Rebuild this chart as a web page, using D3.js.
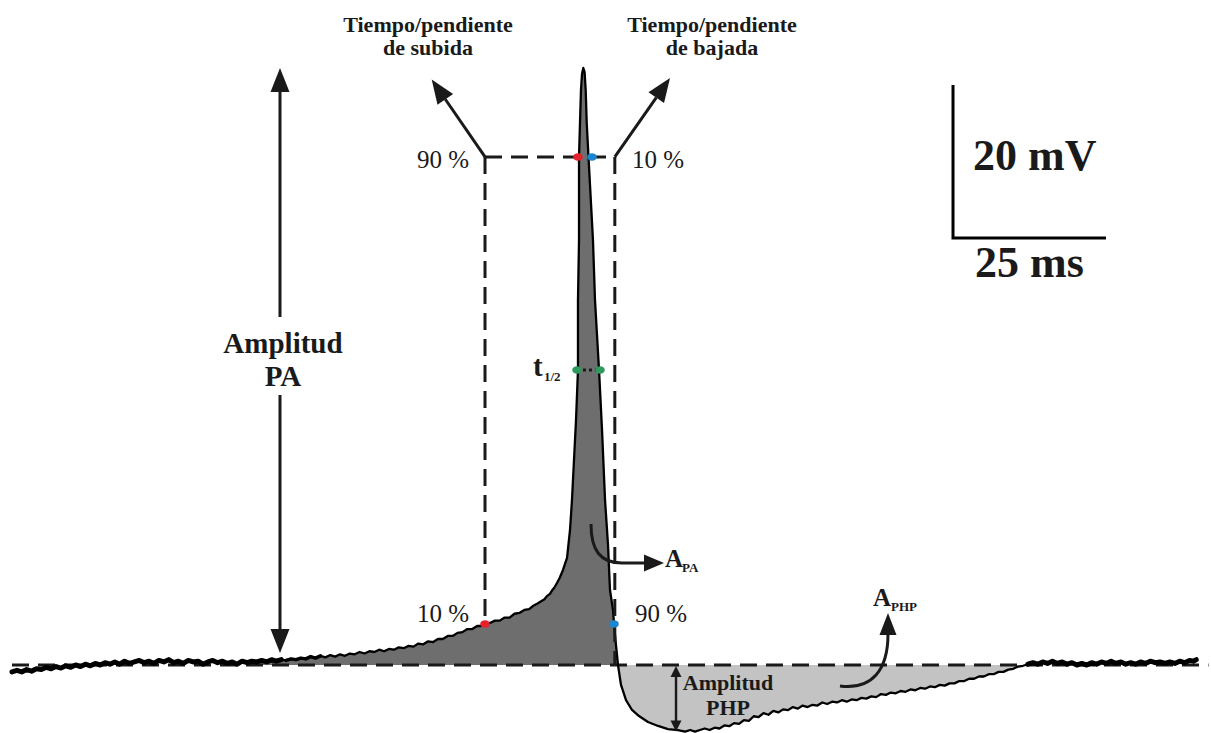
<!DOCTYPE html>
<html>
<head>
<meta charset="utf-8">
<script src="https://cdn.jsdelivr.net/npm/d3@7"></script>
<style>
  body { margin: 0; background: #fff; }
  svg { display: block; }
  text { font-family: "Liberation Serif", "Times New Roman", serif; fill: #1a1a1a; }
</style>
</head>
<body>
<svg id="chart" width="1211" height="733"></svg>
<script>
// Membrane potential recording, [time (ms), voltage (mV)], split by phase
const restBefore = [
  [0, -65.9], [0.8, -65.7], [1.6, -65.9], [2.4, -65.6], [3.2, -65.8], [4.0, -65.5], [4.8, -65.6], [5.6, -65.3],
  [6.4, -65.5], [7.2, -65.2], [8.0, -65.4], [8.8, -65.1], [9.6, -65.3], [10.4, -65.0], [11.2, -65.2], [12.0, -64.9],
  [12.8, -65.1], [13.6, -64.8], [14.4, -65.0], [15.2, -64.7], [16.0, -64.9], [16.8, -64.6], [17.6, -64.9], [18.4, -64.5],
  [19.2, -64.8], [20.0, -64.6], [20.8, -64.4], [21.6, -64.7], [22.4, -64.5], [23.2, -64.8], [24.0, -64.4], [24.8, -64.6],
  [25.6, -64.3], [26.4, -64.7], [27.2, -64.5], [28.0, -64.8], [28.8, -64.4], [29.6, -64.6], [30.4, -64.5], [31.2, -64.9],
  [32.0, -64.6], [32.8, -64.4], [33.6, -64.7], [34.4, -64.5], [35.2, -64.8], [36.0, -64.6], [36.8, -64.9], [37.6, -64.5],
  [38.4, -64.7], [39.2, -64.5], [40.0, -64.6], [40.8, -64.4], [41.6, -64.6], [42.4, -64.3], [43.2, -64.5], [44.0, -64.3]
];
const risingPhase = [
  [44.8, -64.4], [45.6, -64.2], [46.4, -64.3], [47.2, -64.1], [48.0, -64.2], [48.8, -63.9], [49.6, -64.1], [50.4, -63.8],
  [51.2, -64.0], [52.0, -63.7], [52.8, -63.9], [53.6, -63.6], [54.4, -63.8], [55.2, -63.5], [56.0, -63.6], [56.8, -63.3],
  [57.6, -63.5], [58.4, -63.2], [59.2, -63.3], [60.0, -63.0], [60.8, -63.2], [61.6, -62.9], [62.4, -63.0], [63.2, -62.7],
  [64.0, -62.8], [64.8, -62.5], [65.6, -62.6], [66.4, -62.2], [67.2, -62.3], [68.0, -61.9], [68.8, -62.0], [69.6, -61.6],
  [70.4, -61.6], [71.2, -61.2], [72.0, -61.2], [72.8, -60.8], [73.6, -60.7], [74.4, -60.3], [75.2, -60.3], [76.0, -59.9],
  [76.6, -59.9], [77.29, -59.64], [78.1, -59.5], [78.9, -59.2], [79.7, -59.2], [80.5, -58.8], [81.3, -58.8], [82.1, -58.3],
  [82.9, -58.2], [83.7, -57.8], [84.5, -57.7], [85.1, -57.3], [85.8, -57.0], [86.4, -56.7], [87.0, -56.4], [87.4, -56.0],
  [87.9, -55.7], [88.2, -55.3], [88.6, -54.9], [89.05, -54.28], [89.5, -53.6], [90.03, -52.58], [90.69, -51.01]
];
const spike = [
  [91.18, -47.35], [91.50, -43.43], [91.83, -38.20], [92.16, -32.97], [92.48, -26.44], [92.48, -17.29], [92.65, -9.44],
  [92.65, 1.41], [92.81, 5.85], [92.97, 10.16], [93.14, 12.25], [93.35, 13.04], [93.56, 12.51], [93.74, 10.16],
  [93.91, 5.85], [94.20, 1.41], [94.93, -9.44], [95.26, -17.29], [95.92, -26.44], [96.41, -34.28], [96.90, -43.43],
  [97.39, -49.31], [97.71, -55.20], [98.20, -57.81], [98.37, -59.64], [98.69, -62.39], [99.02, -65.00]
];
const afterHyperpol = [
  [99.51, -67.61], [100.33, -69.58], [101.31, -70.88], [102.45, -71.67], [103.92, -72.45], [105.56, -72.97],
  [107.19, -73.37], [108.82, -73.50], [110.0, -73.7], [110.8, -73.5], [111.6, -73.7], [112.4, -73.5], [113.2, -73.3],
  [114.0, -73.5], [114.8, -73.2], [115.6, -73.3], [116.4, -72.9], [117.2, -73.0], [118.0, -72.6], [118.8, -72.7],
  [119.6, -72.2], [120.4, -72.3], [121.2, -71.7], [122.0, -71.8], [122.8, -71.3], [123.6, -71.5], [124.4, -71.0],
  [125.2, -71.2], [126.0, -70.8], [126.8, -70.9], [127.6, -70.5], [128.4, -70.7], [129.2, -70.3], [130.0, -70.5],
  [130.8, -70.2], [131.6, -70.3], [132.4, -69.9], [133.2, -70.1], [134.0, -69.8], [134.8, -69.9], [135.6, -69.6],
  [136.4, -69.8], [137.2, -69.5], [138.0, -69.6], [138.8, -69.3], [139.6, -69.4], [140.4, -69.1], [141.2, -69.2],
  [142.0, -68.8], [142.8, -68.9], [143.6, -68.6], [144.4, -68.7], [145.2, -68.4], [146.0, -68.5], [146.8, -68.2],
  [147.6, -68.3], [148.4, -68.0], [149.2, -68.1], [150.0, -67.8], [150.8, -67.9], [151.6, -67.6], [152.4, -67.7],
  [153.2, -67.4], [154.0, -67.4], [154.8, -67.1], [155.6, -67.1], [156.4, -66.8], [157.2, -66.8], [158.0, -66.5],
  [158.8, -66.5], [159.6, -66.2], [160.4, -66.2], [161.2, -65.9], [162.0, -65.9], [162.8, -65.6], [163.6, -65.5],
  [164.4, -65.2], [165.2, -65.1]
];
const restAfter = [
  [166.0, -64.9], [166.8, -64.7], [167.6, -64.9], [168.4, -64.6], [169.2, -64.8], [170.0, -64.5], [170.8, -64.8],
  [171.6, -64.6], [172.4, -64.9], [173.2, -64.7], [174.0, -65.0], [174.8, -64.8], [175.6, -65.0], [176.4, -64.7],
  [177.2, -64.9], [178.0, -64.6], [178.8, -64.8], [179.6, -64.5], [180.4, -64.8], [181.2, -64.6], [182.0, -64.9],
  [182.8, -64.7], [183.6, -64.9], [184.4, -64.6], [185.2, -64.8], [186.0, -64.5], [186.8, -64.7], [187.6, -64.6],
  [188.4, -64.8], [189.2, -64.6], [190.0, -64.8], [190.8, -64.5], [191.6, -64.7], [192.4, -64.4], [193.0, -64.5],
  [193.5, -64.3]
];
const restMv = -65;

// Measurement levels on the action potential
const lowLevelMv = -59.64;   // 10 % rise / 90 % decay
const highLevelMv = 1.41;    // 90 % rise / 10 % decay
const halfLevelMv = -26.44;  // half amplitude
const riseGuideMs = 77.29;
const decayGuideMs = 98.5;
const paArrowMs = 43.79;
const paArrowEndMv = -63.43;
const phpArrowMs = 108.5;

// Coloured measurement points
const markerMs = [77.29, 92.48, 94.77, 98.37, 92.32, 96.08];
const markerMv = [-59.64, 1.41, 1.41, -59.64, -26.44, -26.44];
const markerColor = ["#e3222b", "#e3222b", "#1c86d1", "#1c86d1", "#2f9a5e", "#2f9a5e"];

// Scale bar
const barOriginMs = 153.76;
const barOriginMv = -9.18;
const barMs = 25;
const barMv = 20;

const svg = d3.select("#chart");
const x = d3.scaleLinear().domain([0, 195]).range([12, 12 + 195 * 6.12]);
const y = d3.scaleLinear().domain([-75, 15]).range([665 + 10 * 7.65, 665 - 80 * 7.65]);

const trace = [].concat(restBefore, risingPhase, spike, afterHyperpol, restAfter);
const line = d3.line().x(d => x(d[0])).y(d => y(d[1]));
const area = d3.area().x(d => x(d[0])).y0(y(restMv)).y1(d => y(d[1]));

const INK = "#1a1a1a";

// Shaded areas: depolarisation (dark) and after-hyperpolarisation (light)
svg.append("path").datum(trace.filter(d => d[0] >= 38 && d[0] <= 99.02))
  .attr("d", area).attr("fill", "#6e6e6e");
svg.append("path").datum(trace.filter(d => d[0] >= 99.02 && d[0] <= 165.6))
  .attr("d", area).attr("fill", "#c3c3c3");

// Resting baseline
svg.append("line")
  .attr("x1", x(0)).attr("x2", x(195.5))
  .attr("y1", y(restMv)).attr("y2", y(restMv))
  .attr("stroke", INK).attr("stroke-width", 2.8).attr("stroke-dasharray", "17,9");

// Trace: thin outline plus heavier noisy resting segments
svg.append("path").datum(trace).attr("d", line)
  .attr("fill", "none").attr("stroke", "#000").attr("stroke-width", 2.3)
  .attr("stroke-linejoin", "round");
[restBefore, risingPhase.slice(0, 8), restAfter].forEach((seg, i) => {
  svg.append("path").datum(seg).attr("d", line)
    .attr("fill", "none").attr("stroke", "#000").attr("stroke-width", i === 1 ? 3.5 : 5)
    .attr("stroke-linejoin", "round").attr("stroke-linecap", "round");
});

// Dashed guides for rise / decay times
const guides = [
  [riseGuideMs, highLevelMv, decayGuideMs, highLevelMv],
  [riseGuideMs, highLevelMv, riseGuideMs, lowLevelMv],
  [decayGuideMs, highLevelMv, decayGuideMs, restMv]
];
guides.forEach(([t1, v1, t2, v2]) => {
  svg.append("line")
    .attr("x1", x(t1)).attr("y1", y(v1)).attr("x2", x(t2)).attr("y2", y(v2))
    .attr("stroke", INK).attr("stroke-width", 3).attr("stroke-dasharray", "17,9");
});

// Half-width dotted segment
svg.append("line")
  .attr("x1", x(markerMs[4])).attr("x2", x(markerMs[5]))
  .attr("y1", y(halfLevelMv)).attr("y2", y(halfLevelMv))
  .attr("stroke", INK).attr("stroke-width", 3).attr("stroke-dasharray", "3,3");

// Measurement points
svg.selectAll("ellipse.mk").data(markerMs).enter().append("ellipse")
  .attr("cx", d => x(d)).attr("cy", (d, i) => y(markerMv[i]))
  .attr("rx", 4.8).attr("ry", 3.8).attr("fill", (d, i) => markerColor[i]);

// Filled triangular arrow head with its tip at (x2, y2), pointing along angle a
function head(x2, y2, a, len, half) {
  const bx = x2 - len * Math.cos(a), by = y2 - len * Math.sin(a);
  const px = -Math.sin(a) * half, py = Math.cos(a) * half;
  svg.append("path")
    .attr("d", `M${x2},${y2}L${bx + px},${by + py}L${bx - px},${by - py}Z`)
    .attr("fill", INK);
}
function arrow(x1, y1, x2, y2, len, half, w) {
  const a = Math.atan2(y2 - y1, x2 - x1);
  svg.append("line").attr("x1", x1).attr("y1", y1)
    .attr("x2", x2 - len * Math.cos(a)).attr("y2", y2 - len * Math.sin(a))
    .attr("stroke", INK).attr("stroke-width", w);
  head(x2, y2, a, len, half);
}

// Slope arrows
arrow(x(riseGuideMs), y(highLevelMv), 431.7, 79.5, 24, 9.5, 3);
arrow(x(decayGuideMs), y(highLevelMv), 670, 78, 24, 9.5, 3);

// Amplitude of the action potential (double arrow, broken by the label)
const paX = x(paArrowMs);
const peakY = y(d3.max(spike, d => d[1]));
head(paX, peakY, -Math.PI / 2, 24, 9.5);
svg.append("line").attr("x1", paX).attr("x2", paX).attr("y1", peakY + 20).attr("y2", 317)
  .attr("stroke", INK).attr("stroke-width", 3);
svg.append("line").attr("x1", paX).attr("x2", paX).attr("y1", 395).attr("y2", y(paArrowEndMv) - 20)
  .attr("stroke", INK).attr("stroke-width", 3);
head(paX, y(paArrowEndMv), Math.PI / 2, 24, 9.5);

// Amplitude of the after-hyperpolarisation
const phpX = x(phpArrowMs);
const phpMinY = y(d3.min(afterHyperpol, d => d[1]));
head(phpX, y(restMv) + 1, -Math.PI / 2, 11, 5.5);
head(phpX, phpMinY, Math.PI / 2, 11, 5.5);
svg.append("line").attr("x1", phpX).attr("x2", phpX)
  .attr("y1", y(restMv) + 9).attr("y2", phpMinY - 9)
  .attr("stroke", INK).attr("stroke-width", 2.4);

// Curved arrows pointing at the two areas
svg.append("path").attr("d", "M591,524 C591,550 600,563 622,563 L646,563")
  .attr("fill", "none").attr("stroke", INK).attr("stroke-width", 3);
head(664, 563, 0, 20, 8.5);
svg.append("path").attr("d", "M840,686 C872,690 888,670 888,634")
  .attr("fill", "none").attr("stroke", INK).attr("stroke-width", 3);
head(888, 613, -Math.PI / 2, 22, 8.5);

// Scale bar
const bx0 = x(barOriginMs), by0 = y(barOriginMv);
svg.append("path")
  .attr("d", `M${bx0},${y(barOriginMv + barMv)}L${bx0},${by0}L${x(barOriginMs + barMs)},${by0}`)
  .attr("fill", "none").attr("stroke", "#000").attr("stroke-width", 3);
svg.append("text").attr("x", bx0 + 20).attr("y", 170)
  .attr("font-size", 44).attr("font-weight", "bold").text(`${barMv} mV`);
svg.append("text").attr("x", (bx0 + x(barOriginMs + barMs)) / 2).attr("y", 277)
  .attr("text-anchor", "middle").attr("font-size", 44).attr("font-weight", "bold").text(`${barMs} ms`);

// Labels
function label(tx, ty, str, size, bold, anchor) {
  return svg.append("text").attr("x", tx).attr("y", ty).attr("font-size", size)
    .attr("font-weight", bold ? "bold" : "normal").attr("text-anchor", anchor || "start").text(str);
}
label(428, 32, "Tiempo/pendiente", 22, true, "middle");
label(428, 55, "de subida", 22, true, "middle");
label(712, 32, "Tiempo/pendiente", 22, true, "middle");
label(712, 55, "de bajada", 22, true, "middle");

label(469, 168, "90 %", 25, false, "end");
label(632, 168, "10 %", 25, false, "start");
label(469, 622, "10 %", 25, false, "end");
label(635, 622, "90 %", 25, false, "start");

label(283, 353, "Amplitud", 29, true, "middle");
label(283, 386, "PA", 29, true, "middle");

label(533, 376, "t", 29, true);
label(544, 381, "1/2", 13, true);

label(665, 567, "A", 25, true);
label(682, 572, "PA", 13, true);
label(873, 606, "A", 25, true);
label(891, 611, "PHP", 13, true);

label(728, 690, "Amplitud", 22, true, "middle");
label(728, 715, "PHP", 22, true, "middle");
</script>
</body>
</html>
